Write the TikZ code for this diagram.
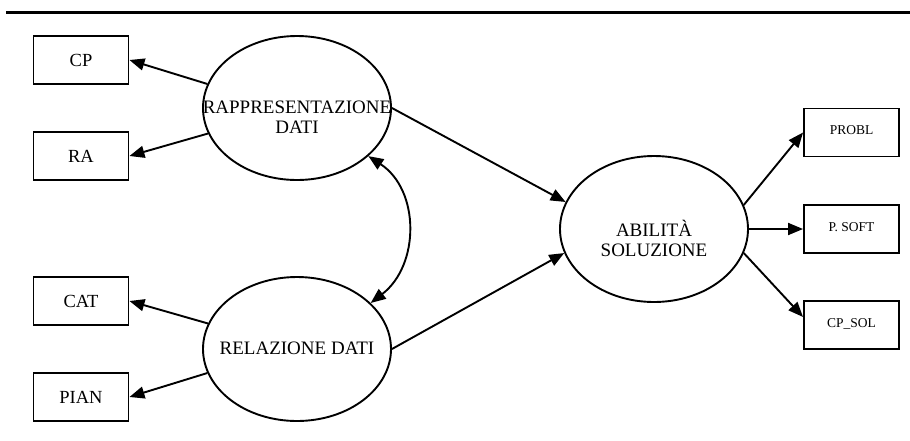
\documentclass[tikz,border=0pt]{standalone}
\usepackage{fontspec}
\setmainfont{Liberation Serif}
\usetikzlibrary{arrows.meta,shapes.geometric}

\begin{document}
\begin{tikzpicture}[x=1pt,y=-1pt,
  box/.style={draw, line width=1.9pt, minimum width=95pt, minimum height=48pt,
    inner sep=0pt, font=\fontsize{18.5}{20}\selectfont},
  smallbox/.style={box, font=\fontsize{13.5}{15}\selectfont},
  latent/.style={draw, ellipse, line width=1.9pt, minimum width=188pt,
    minimum height=144pt, inner sep=0pt},
  latentlabel/.style={font=\fontsize{19}{20}\selectfont, align=center, inner sep=0pt},
  link/.style={line width=1.9pt, -{Triangle[length=15pt,width=12pt]}},
  corr/.style={line width=1.9pt, {Triangle[length=15pt,width=12pt]}-{Triangle[length=15pt,width=12pt]}}
]
\useasboundingbox (0,0) rectangle (910,440);
\fill[white] (0,0) rectangle (910,440);

% rule across the top
\draw[line width=2.6pt] (6,12.5) -- (910,12.5);

% observed indicators
\node[box] (cp)   at (81,60)  {CP};
\node[box] (ra)   at (81,156) {RA};
\node[box] (cat)  at (81,301) {CAT};
\node[box] (pian) at (81,397) {PIAN};
\node[smallbox] (probl) at (851.5,132.5) {\raisebox{4pt}{PROBL}};
\node[smallbox] (psoft) at (851.5,229)   {\raisebox{4pt}{P. SOFT}};
\node[smallbox] (cpsol) at (851.5,325)   {\raisebox{4pt}{CP\_SOL}};

% latent constructs
\node[latent, label={[latentlabel, yshift=-9pt]center:RAPPRESENTAZIONE\\DATI}] (rap) at (297,108) {};
\node[latent, label={[latentlabel, yshift=1pt]center:RELAZIONE DATI}] (rel) at (297,349) {};
\node[latent, minimum height=146pt, label={[latentlabel, yshift=-9pt]center:ABILITÀ\\SOLUZIONE}] (abil) at (654,229) {};

% loadings
\draw[link] (rap.165) -- (cp.east);
\draw[link] (rap.196) -- (ra.east);
\draw[link] (rel.164) -- (cat.east);
\draw[link] (rel.195) -- (pian.east);
\draw[link] (abil.15) -- (probl.west);
\draw[link] (abil.0) -- (psoft.west);
\draw[link] (abil.-15) -- ([yshift=8pt]cpsol.west);

% structural paths
\draw[link] (rap.0) -- (abil.163);
\draw[link] (rel.0) -- (abil.195);

% correlation between the two predictors
\draw[corr] (rel.32) .. controls (420,265) and (420,190) .. (rap.-34);
\end{tikzpicture}
\end{document}
